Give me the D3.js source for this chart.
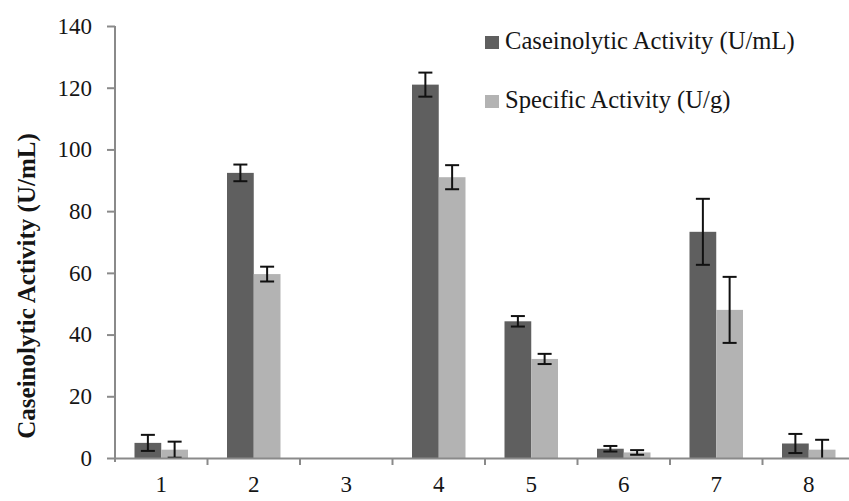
<!DOCTYPE html>
<html>
<head>
<meta charset="utf-8">
<script src="https://cdn.jsdelivr.net/npm/d3@7"></script>
<style>
  html, body { margin: 0; padding: 0; background: #fff; }
  svg { display: block; }
  text { font-family: "Liberation Serif", "Times New Roman", serif; fill: #151515; }
</style>
</head>
<body>
<svg id="chart" width="849" height="501"></svg>
<script>
// ---- data ----
const categories = ["1", "2", "3", "4", "5", "6", "7", "8"];
const seriesNames = ["Caseinolytic Activity (U/mL)", "Specific Activity (U/g)"];
const caseinolytic = [4.9, 92.4, 0, 121.0, 44.3, 3.0, 73.3, 4.7];
const caseinolyticErr = [2.6, 2.7, 0, 3.9, 1.7, 0.9, 10.7, 3.1];
const specific = [2.7, 59.6, 0, 91.0, 32.1, 1.8, 48.0, 2.7];
const specificErr = [2.6, 2.4, 0, 3.9, 1.65, 0.75, 10.7, 3.2];
const yTicks = [0, 20, 40, 60, 80, 100, 120, 140];
const yTitle = "Caseinolytic Activity (U/mL)";

(function () {
const colors = ["#5f5f5f", "#b3b3b3"];
const values = [caseinolytic, specific];
const errors = [caseinolyticErr, specificErr];

const svg = d3.select("#chart");
const mLeft = 115, mBottom = 458, mTop = 26;
const step = 92.5;

const y = d3.scaleLinear().domain([0, 140]).range([mBottom, mTop]);
const x0 = d3.scaleBand().domain(categories).range([mLeft, mLeft + step * categories.length]).padding(0);
const x1 = d3.scaleBand().domain(seriesNames).range([19.5, 73]).padding(0);

const data = [];
categories.forEach((c, i) => {
  seriesNames.forEach((s, j) => {
    data.push({ cat: c, series: s, v: values[j][i], e: errors[j][i], color: colors[j] });
  });
});

svg.append("defs").append("clipPath").attr("id", "plot")
  .append("rect").attr("x", mLeft).attr("y", 0).attr("width", 849 - mLeft).attr("height", mBottom);

const plot = svg.append("g").attr("clip-path", "url(#plot)");

plot.selectAll("rect.bar").data(data.filter(d => d.v > 0)).enter().append("rect")
  .attr("class", "bar")
  .attr("x", d => x0(d.cat) + x1(d.series))
  .attr("width", x1.bandwidth())
  .attr("y", d => y(d.v))
  .attr("height", d => y(0) - y(d.v))
  .attr("fill", d => d.color);

const capW = 14;
const cx = d => x0(d.cat) + x1(d.series) + x1.bandwidth() / 2;
const eb = plot.selectAll("g.err").data(data.filter(d => d.v > 0)).enter().append("g").attr("class", "err");
eb.append("line")
  .attr("x1", cx).attr("x2", cx)
  .attr("y1", d => y(d.v + d.e))
  .attr("y2", d => y(d.v - d.e))
  .attr("stroke", "#111").attr("stroke-width", 2);
eb.append("line")
  .attr("x1", d => cx(d) - capW / 2).attr("x2", d => cx(d) + capW / 2)
  .attr("y1", d => y(d.v + d.e)).attr("y2", d => y(d.v + d.e))
  .attr("stroke", "#111").attr("stroke-width", 2);
eb.append("line")
  .attr("x1", d => cx(d) - capW / 2).attr("x2", d => cx(d) + capW / 2)
  .attr("y1", d => y(d.v - d.e)).attr("y2", d => y(d.v - d.e))
  .attr("stroke", "#111").attr("stroke-width", 2);

const yAxis = svg.append("g").attr("transform", `translate(${mLeft},0)`)
  .call(d3.axisLeft(y).tickValues(yTicks).tickSize(8).tickPadding(15).tickSizeOuter(0));
yAxis.select(".domain").attr("stroke", "#8a8a8a").attr("stroke-width", 2)
  .attr("d", `M0,${mTop}V${mBottom + 4}`);
yAxis.selectAll(".tick line").attr("stroke", "#8a8a8a").attr("stroke-width", 2);
yAxis.selectAll(".tick text").attr("font-size", 23).attr("fill", "#151515")
  .style("font-family", '"Liberation Serif", serif');

const xAxis = svg.append("g").attr("transform", `translate(0,${mBottom})`)
  .call(d3.axisBottom(x0).tickSize(0).tickSizeOuter(0));
xAxis.select(".domain").attr("stroke", "#8a8a8a").attr("stroke-width", 2);
xAxis.selectAll(".tick text").attr("font-size", 23).attr("y", 34).attr("dy", 0)
  .attr("fill", "#151515").style("font-family", '"Liberation Serif", serif');
xAxis.selectAll("line.bt").data(categories).enter().append("line")
  .attr("class", "bt")
  .attr("x1", (d, i) => x0(categories[0]) + x0.step() * (i + 1))
  .attr("x2", (d, i) => x0(categories[0]) + x0.step() * (i + 1))
  .attr("y1", 0).attr("y2", 7)
  .attr("stroke", "#8a8a8a").attr("stroke-width", 2);

svg.append("text")
  .attr("transform", `translate(35,286) rotate(-90)`)
  .attr("text-anchor", "middle")
  .attr("font-size", 25)
  .attr("font-weight", "bold")
  .text(yTitle);

const legend = svg.append("g");
const legY = [36, 95];
seriesNames.forEach((s, j) => {
  legend.append("rect").attr("x", 485).attr("y", legY[j]).attr("width", 14).attr("height", 13).attr("fill", colors[j]);
  legend.append("text").attr("x", 505).attr("y", legY[j] + 12.5).attr("font-size", 24.6).text(s);
});
})();
</script>
</body>
</html>
